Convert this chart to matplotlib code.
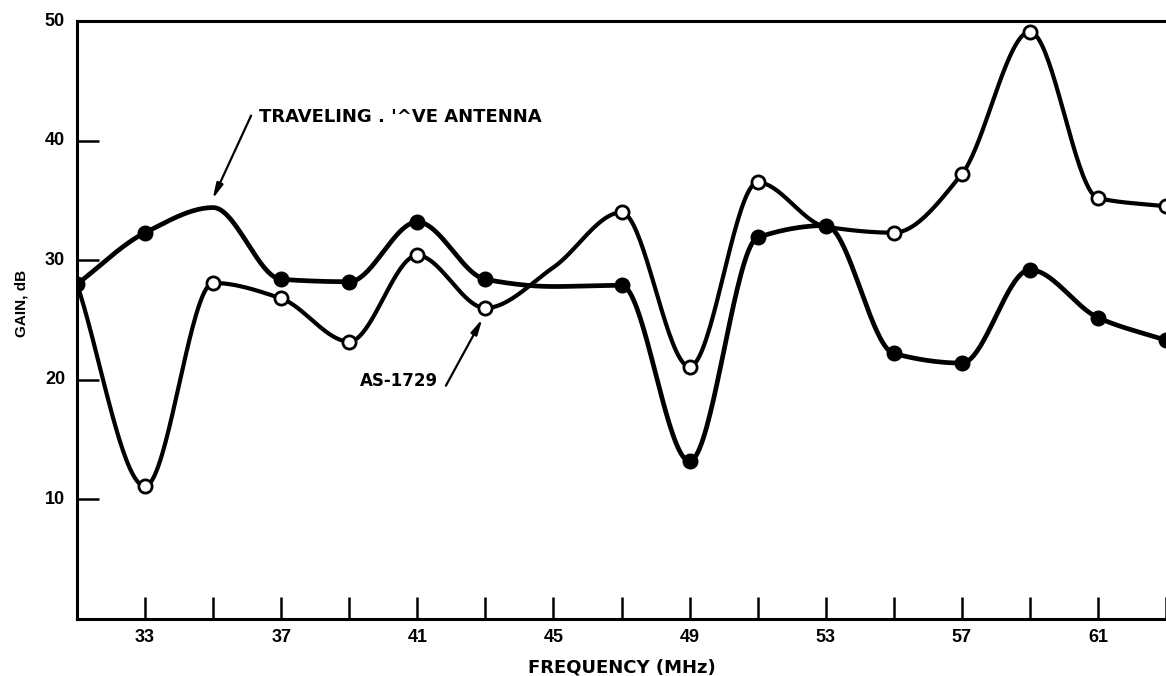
import numpy as np
import matplotlib
matplotlib.use("Agg")
from matplotlib import pyplot as plt

plt.rcParams['font.family'] = ['Liberation Sans', 'DejaVu Sans']
plt.rcParams['font.weight'] = 'bold'

# traveling wave antenna (filled dots); 35 and 45 are curve points without a dot
tw_freq = [31, 33, 35, 37, 39, 41, 43, 45, 47, 49, 51, 53, 55, 57, 59, 61, 63]
tw_gain = [28.0, 32.3, 34.4, 28.4, 28.2, 33.2, 28.4, 27.8, 27.9, 13.2, 31.9, 32.9, 22.2, 21.4, 29.2, 25.2, 23.3]
tw_dots = [0, 1, 3, 4, 5, 6, 8, 9, 10, 11, 12, 13, 14, 15, 16]

# AS-1729 (open dots); 45 and 53 are curve points without a dot
as_freq = [31, 33, 35, 37, 39, 41, 43, 45, 47, 49, 51, 53, 55, 57, 59, 61, 63]
as_gain = [28.0, 11.1, 28.1, 26.8, 23.2, 30.4, 26.0, 29.4, 34.0, 21.1, 36.5, 32.8, 32.3, 37.2, 49.1, 35.2, 34.5]
as_dots = [1, 2, 3, 4, 5, 6, 8, 9, 10, 12, 13, 14, 15, 16]

xtick_major = [33, 37, 41, 45, 49, 53, 57, 61]
xtick_minor = [35, 39, 43, 47, 51, 55, 59, 63]
ytick_lines = [10, 20, 30, 40]
ytick_labels = [10, 20, 30, 40, 50]


def smooth(x, y, n=40):
    # monotone cubic (pchip-like) curve through the points
    x = np.asarray(x, float)
    y = np.asarray(y, float)
    d = np.diff(y) / np.diff(x)
    m = np.zeros_like(y)
    for i in range(1, len(y) - 1):
        if d[i - 1] * d[i] > 0:
            m[i] = 2 / (1 / d[i - 1] + 1 / d[i])
    m[0] = d[0]
    m[-1] = d[-1]
    xs, ys = [], []
    for i in range(len(x) - 1):
        h = x[i + 1] - x[i]
        t = np.linspace(0, 1, n, endpoint=False)
        h00 = 2 * t**3 - 3 * t**2 + 1
        h10 = t**3 - 2 * t**2 + t
        h01 = -2 * t**3 + 3 * t**2
        h11 = t**3 - t**2
        xs.append(x[i] + t * h)
        ys.append(h00 * y[i] + h10 * h * m[i] + h01 * y[i + 1] + h11 * h * m[i + 1])
    xs.append([x[-1]])
    ys.append([y[-1]])
    return np.concatenate(xs), np.concatenate(ys)


fig = plt.figure(figsize=(11.66, 6.76), dpi=100)
ax = fig.add_axes([77 / 1166, 1 - 619 / 676, 1 - 77 / 1166, 598 / 676])

sx, sy = smooth(as_freq, as_gain)
ax.plot(sx, sy, color='black', lw=3.0, solid_capstyle='round', zorder=2)
sx, sy = smooth(tw_freq, tw_gain)
ax.plot(sx, sy, color='black', lw=3.4, solid_capstyle='round', zorder=3)

ax.plot([as_freq[i] for i in as_dots], [as_gain[i] for i in as_dots], 'o', ms=9.5,
        mfc='white', mec='black', mew=2.0, zorder=4)
ax.plot([tw_freq[i] for i in tw_dots], [tw_gain[i] for i in tw_dots], 'o', ms=10.5,
        mfc='black', mec='black', zorder=5)

ax.set_xlim(31, 62.95)
ax.set_ylim(0, 50)

ax.spines['right'].set_visible(False)
for s in ['left', 'bottom', 'top']:
    ax.spines[s].set_linewidth(2.2)

ax.set_xticks(xtick_major)
ax.set_xticks(xtick_minor, minor=True)
ax.tick_params(axis='x', which='both', direction='in', length=16, width=1.8, pad=7, labelsize=13)
ax.set_yticks(ytick_lines)
ax.set_yticklabels([])
ax.tick_params(axis='y', direction='in', length=16, width=1.8)
for v in ytick_labels:
    ax.text(-0.011, v, str(v), transform=ax.get_yaxis_transform(), ha='right', va='center',
            fontsize=13, fontweight='bold')

ax.set_xlabel('FREQUENCY (MHz)', fontsize=13, fontweight='bold', labelpad=9,
              family=['DejaVu Sans'])
fig.text(21 / 1166, 1 - 303 / 676, 'GAIN, dB', rotation=90, ha='center', va='center',
         fontsize=11, fontweight='bold')

ax.text(36.35, 41.95, "TRAVELING . '^VE ANTENNA", ha='left', va='center', fontsize=13,
        fontweight='bold', family=['DejaVu Sans'])
ax.annotate('', xy=(34.95, 34.9), xytext=(36.15, 42.3),
            arrowprops=dict(arrowstyle='-|>,head_length=0.9,head_width=0.2', color='black', lw=1.6))
ax.text(41.6, 19.9, 'AS-1729', ha='right', va='center', fontsize=12, fontweight='bold',
        family=['DejaVu Sans'])
ax.annotate('', xy=(42.95, 25.3), xytext=(41.8, 19.3),
            arrowprops=dict(arrowstyle='-|>,head_length=0.9,head_width=0.2', color='black', lw=1.6))

fig.savefig('out.png', dpi=100)
